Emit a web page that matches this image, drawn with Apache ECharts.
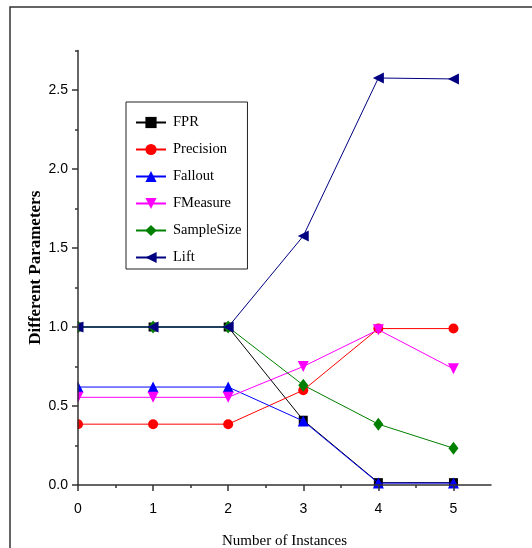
<!DOCTYPE html>
<html><head><meta charset="utf-8">
<script src="https://cdn.jsdelivr.net/npm/echarts@6/dist/echarts.min.js"></script>
<style>html,body{margin:0;padding:0;background:#fff}#c{width:532px;height:548px}</style>
</head><body><div id="c"></div>
<script>
const instances = [0, 1, 2, 3, 4, 5];
const seriesNames = ['FPR', 'Precision', 'Fallout', 'FMeasure', 'SampleSize', 'Lift'];
const fpr = [1.0, 1.0, 1.0, 0.41, 0.015, 0.015];
const precision = [0.385, 0.385, 0.385, 0.60, 0.99, 0.99];
const fallout = [0.62, 0.62, 0.62, 0.405, 0.012, 0.012];
const fmeasure = [0.555, 0.555, 0.555, 0.75, 0.983, 0.735];
const sampleSize = [1.0, 1.0, 1.0, 0.632, 0.385, 0.233];
const lift = [1.0, 1.0, 1.0, 1.576, 2.576, 2.57];
const xTicks = [0, 1, 2, 3, 4, 5];
const xMinorTicks = [0.5, 1.5, 2.5, 3.5, 4.5];
const yTicks = [0, 0.5, 1, 1.5, 2, 2.5];
const yMinorTicks = [0.25, 0.75, 1.25, 1.75, 2.25, 2.75];

const values = [fpr, precision, fallout, fmeasure, sampleSize, lift];
const colors = ['#000000', '#ff0000', '#0000ff', '#ff00ff', '#008000', '#000080'];
const symbols = ['rect', 'circle', 'triangle', 'triangle', 'diamond', 'triangle'];
const rotates = [0, 0, 0, 180, 0, 90];
const sizes = [9, 10, 11, 11, [10, 13], 11];

const tickFont = "'Liberation Sans Narrow', 'Arial Narrow', 'Liberation Sans', Arial, sans-serif";
const serif = "'Liberation Serif', 'Times New Roman', Times, serif";
const axisCol = '#333';

const chart = echarts.init(document.getElementById('c'), null, {renderer: 'canvas'});
const series = seriesNames.map((n, i) => ({
  name: n,
  type: 'line',
  xAxisIndex: 0, yAxisIndex: 0,
  data: instances.map((x, j) => [x, values[i][j]]),
  symbol: symbols[i],
  symbolRotate: rotates[i],
  symbolSize: sizes[i],
  showAllSymbol: true,
  color: colors[i],
  lineStyle: {width: 1, color: colors[i]},
  itemStyle: {color: colors[i]},
  emphasis: {disabled: true},
  animation: false,
  z: 2 + i
}));

chart.setOption({
  animation: false,
  backgroundColor: '#fff',
  graphic: [{
    type: 'rect', shape: {x: 10, y: 7, width: 700, height: 700},
    style: {fill: 'none', stroke: axisCol, lineWidth: 1.5}, silent: true, z: 0
  }, {
    // white mask so that markers sitting on the left axis are cut at the plot edge
    type: 'rect', shape: {x: 69, y: 290, width: 8.5, height: 150},
    style: {fill: '#fff'}, silent: true, z: 10
  }],
  legend: {
    orient: 'vertical', left: 126, top: 102,
    padding: [13, 6, 4, 9],
    itemWidth: 30, itemHeight: 14, itemGap: 12,
    borderColor: '#222', borderWidth: 1,
    backgroundColor: '#fff',
    textStyle: {fontFamily: serif, fontSize: 14.5, color: '#000', padding: [0, 0, 0, 2]},
    data: seriesNames,
    selectedMode: false,
    z: 12
  },
  grid: {left: 78, right: 41, top: 50.5, bottom: 63, outerBoundsMode: 'none', containLabel: false},
  xAxis: [{
    type: 'value', min: 0, max: 5.5, position: 'bottom', z: 20,
    name: 'Number of Instances', nameLocation: 'middle', nameGap: 49, nameMoveOverlap: false,
    nameTextStyle: {fontFamily: serif, fontSize: 15, color: '#000'},
    axisLine: {show: true, onZero: false, lineStyle: {color: axisCol, width: 1.5}},
    axisTick: {show: true, length: 6, customValues: xTicks, lineStyle: {color: axisCol, width: 1.5}},
    axisLabel: {customValues: xTicks, margin: 17, fontFamily: tickFont, fontSize: 14, color: '#000', formatter: v => String(v)},
    splitLine: {show: false}
  }, {
    type: 'value', min: 0, max: 5.5, position: 'bottom', z: 20,
    axisLine: {show: false},
    axisTick: {show: true, length: 3, customValues: xMinorTicks, lineStyle: {color: axisCol, width: 1.5}},
    axisLabel: {show: false},
    splitLine: {show: false}
  }],
  yAxis: [{
    type: 'value', min: 0, max: 2.75, position: 'left', z: 20,
    name: 'Different Parameters', nameLocation: 'middle', nameGap: 34, nameMoveOverlap: false,
    nameTextStyle: {fontFamily: serif, fontSize: 17, fontWeight: 'bold', color: '#000'},
    axisLine: {show: true, onZero: false, lineStyle: {color: axisCol, width: 1.5}},
    axisTick: {show: true, length: 6, customValues: yTicks, lineStyle: {color: axisCol, width: 1.5}},
    axisLabel: {customValues: yTicks, margin: 10, fontFamily: tickFont, fontSize: 14, color: '#000', formatter: v => v.toFixed(1)},
    splitLine: {show: false}
  }, {
    type: 'value', min: 0, max: 2.75, position: 'left', z: 20,
    axisLine: {show: false},
    axisTick: {show: true, length: 3, customValues: yMinorTicks, lineStyle: {color: axisCol, width: 1.5}},
    axisLabel: {show: false},
    splitLine: {show: false}
  }],
  series: series
});
</script></body></html>
